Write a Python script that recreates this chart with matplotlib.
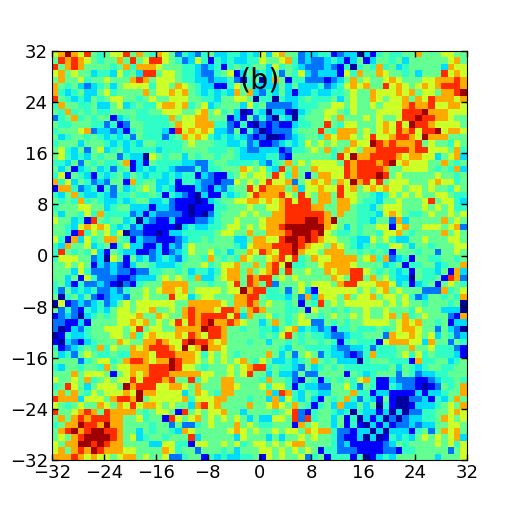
import numpy as np
import matplotlib
matplotlib.use("Agg")
import matplotlib.pyplot as plt

# colour levels, top row first, 0 = dark blue .. 9 = dark red
rows = [
    "67976854 56685754 76524324 53344343 63675523 34412330 31454455 75556655",
    "58787654 55758568 86542364 14343344 65567423 22343135 13554535 55555675",
    "85787555 54574777 65554432 34145445 53645432 22321404 54745345 55553766",
    "67565534 43645388 56654432 24561353 43525463 23331647 55765545 35558676",
    "57556455 65557875 66654433 23342145 03751442 22123575 65567655 56677787",
    "75453234 53566664 66576543 31146543 33353533 34234676 75586765 67678887",
    "74345335 64555575 66767543 43437573 24353133 43344565 57666767 56657789",
    "85434354 56655456 55666554 43556650 44043345 44453565 57656675 76877767",
    "47554453 35634544 67767456 34555364 52222344 45566565 56566678 77866776",
    "54745454 45555445 56665567 56453014 30331034 55665465 55666688 89777666",
    "24574545 51345444 44756677 55513152 42043045 55657555 65655688 98877655",
    "54455544 24125544 44576677 74421410 21211344 55854665 55676869 88766665",
    "45556723 32314544 43186767 63325142 01222455 58547775 65676878 68896776",
    "53455454 34342544 42457676 43434321 20012345 54767765 68667887 69777555",
    "45553555 43434355 44445655 54433423 11234346 56565576 69878777 85655465",
    "56435256 34534444 34445555 44454322 33312445 65745765 77888887 88666574",
    "56434354 55243306 54553545 54554333 34421555 55548697 78888767 76635673",
    "44352545 44571315 44443322 45544445 32457565 66665878 88789676 66557545",
    "53513453 42451343 44322242 44555765 64385755 76666878 88875566 66545473",
    "46154314 34535434 43434413 21145656 65864751 57766878 88985655 55565545",
    "74635423 25517455 33414432 21226565 68667256 76757697 86856665 55676645",
    "17742341 42534565 34311132 13245586 87775736 67668675 67676656 65655465",
    "43574334 32445445 41432103 11434568 77786586 57758665 54346565 65566544",
    "54547454 33434553 34211101 34556677 67678688 57757765 44355655 56856643",
    "45556655 34553331 33211011 14455565 56678888 77557754 43566655 56565644",
    "53554647 44442313 22221010 24555656 55778888 88757554 44367654 45655656",
    "65534185 45534032 11311122 34556555 67778889 98795554 43552735 55557565",
    "55436767 64342311 11103433 44566565 67789999 99765354 55661675 56665672",
    "55418465 64602211 01334444 45665575 57778999 89654454 55466754 55557565",
    "64173645 77541322 11123445 45553357 76689989 87665543 36564335 56555665",
    "43755634 51463311 31324655 55554367 77888987 66576543 45446653 55455566",
    "48545463 15433112 31234655 64535576 87688976 65777554 54541555 45525565",
    "46665523 06515342 34324554 75454765 56786845 76677775 67472341 55445545",
    "55656513 23213554 33345556 45667557 57869445 56777765 55534514 45534557",
    "55536422 23221224 45545344 34677575 67858556 55767788 65454341 54435173",
    "55351642 22112333 56565473 35677587 88565655 55576588 57564330 54451872",
    "45314223 21021455 57777555 45568587 58255565 66657886 66776341 34515654",
    "42534342 23245565 67767566 66566978 84452563 16666665 65675655 52227456",
    "50453521 23325565 55866356 65557788 54443527 37665756 67566564 23554547",
    "06123234 23565666 66655777 77657787 56554515 48565666 66656565 54555450",
    "52421434 35665667 55657877 76887578 75554451 65545455 65565554 65553330",
    "12320345 45666755 76557878 88868375 56454565 54565565 65567574 56555217",
    "22113155 55667675 65686878 97787655 35754566 22545455 66665676 75545133",
    "20132455 66656856 65577779 88755455 44356734 32314454 44545677 65525320",
    "01433455 56657467 66676876 88755555 45468545 44322344 55527667 65635423",
    "10321345 55765577 87668988 76755545 53554545 54541454 44167776 63755254",
    "41234547 46557678 88769679 77655555 55543554 44432233 42444557 55644421",
    "53425654 45447776 88877764 65654555 57535256 52433212 47444564 64544431",
    "55552456 64578876 77987765 65656754 65334345 75453330 45554441 74455345",
    "43554554 75667778 88986654 55565678 84544325 34545444 44445354 34554455",
    "55575666 51567678 88777776 65565685 53533252 25555154 34555254 23344555",
    "65565745 65668688 87855846 55775555 47554215 41454546 74113222 11234454",
    "45865356 66597888 66776575 55776555 64664143 32255642 54114322 10125457",
    "57575465 66676977 66663576 54775555 57387435 43355574 41331111 31334557",
    "87773666 57887956 66667466 67755545 53736435 31545742 43151002 23143575",
    "65456557 65768677 65655378 67555575 56765754 14537335 35041001 33345657",
    "85567875 87777545 66518565 66755355 55456821 45543404 33130302 24455676",
    "57578788 87755645 51865675 65656535 33665828 45535140 31302023 34457656",
    "45779887 97755554 55252245 65557565 44555175 65535141 03131223 23355665",
    "57897899 88755354 55437655 55567656 55656657 67742213 30303331 45257675",
    "56578999 98756345 54555835 55553655 53535565 65542113 03014343 56565673",
    "65779989 87755553 36644166 55656456 65656775 55542311 11123545 55565646",
    "67578798 77766555 57645525 55453555 66565656 51442221 11122144 55555256",
    "77787676 65677565 56224551 43433445 16565562 45144414 01343555 55535556",
]
level_values = [0.03, 0.11, 0.24, 0.34, 0.41, 0.47, 0.6, 0.73, 0.86, 0.97]
ticks = [-32, -24, -16, -8, 0, 8, 16, 24, 32]

data = np.array([[level_values[int(c)] for c in r.replace(" ", "")] for r in rows])

fig = plt.figure(figsize=(5.2, 5.12), dpi=100)
ax = fig.add_axes([52/520, 52/512, 415/520, 409/512])
ax.imshow(data, cmap="jet", vmin=0, vmax=1, interpolation="nearest",
          extent=(-32, 32, -32, 32), aspect="auto")

ax.set_xticks(ticks)
ax.set_yticks(ticks)
ax.tick_params(direction="in", top=True, right=True, length=4, width=1, labelsize=13, pad=3)
ax.text(0, 27.4, "(b)", fontsize=20.5, ha="center", va="center")

fig.savefig("out.png", dpi=100)
